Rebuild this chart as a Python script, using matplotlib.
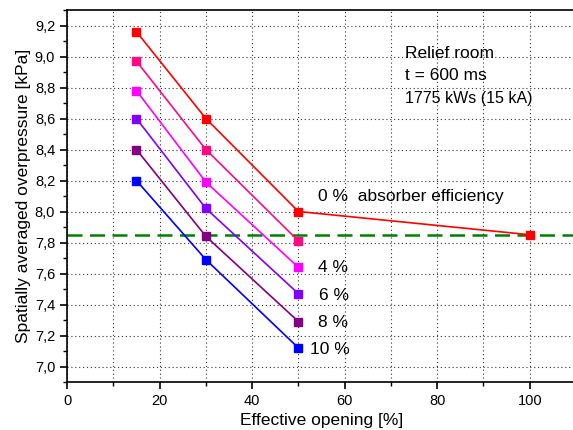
import matplotlib.pyplot as plt
import matplotlib.ticker as mticker

plt.rcParams['font.family'] = ['Liberation Sans', 'DejaVu Sans']
plt.rcParams['font.size'] = 10
plt.rcParams['axes.linewidth'] = 1.2

# effective opening [%]
opening = [15, 30, 50, 100]

# spatially averaged overpressure [kPa] per absorber efficiency
p_0 = [9.16, 8.60, 8.00, 7.85]
p_2 = [8.97, 8.40, 7.81]
p_4 = [8.78, 8.19, 7.64]
p_6 = [8.60, 8.02, 7.47]
p_8 = [8.40, 7.84, 7.29]
p_10 = [8.20, 7.69, 7.12]

reference_level = 7.85

series = [
    (p_0, '#ff0000'),
    (p_2, '#ff0a80'),
    (p_4, '#ff00ff'),
    (p_6, '#8000ff'),
    (p_8, '#800080'),
    (p_10, '#0000ff'),
]

fig = plt.figure(figsize=(5.73, 4.30), dpi=100)
ax = fig.add_axes([67 / 573, 48 / 430, 509 / 573, 372 / 430])

ax.axhline(reference_level, color='#008000', linestyle=(0, (6, 3)), linewidth=1.8, zorder=1)

for values, color in series:
    ax.plot(opening[:len(values)], values, color=color, linewidth=1.2,
            marker='s', markersize=5.5, zorder=3)

ax.set_xlim(0, 110)
ax.set_ylim(6.9, 9.3)
ax.xaxis.set_major_locator(mticker.MultipleLocator(20))
ax.xaxis.set_minor_locator(mticker.MultipleLocator(10))
ax.yaxis.set_major_locator(mticker.MultipleLocator(0.2))
ax.yaxis.set_minor_locator(mticker.MultipleLocator(0.1))
ax.yaxis.set_major_formatter(mticker.FuncFormatter(lambda v, p: f'{v:.1f}'.replace('.', ',')))

ax.grid(True, which='both', axis='x', linestyle=(0, (1, 2.5)), color='#333333', linewidth=0.8)
ax.grid(True, which='major', axis='y', linestyle=(0, (1, 2.5)), color='#333333', linewidth=0.8)
ax.set_axisbelow(True)

ax.tick_params(which='major', direction='out', length=5, width=1.2, labelsize=10.5)
ax.tick_params(which='minor', direction='out', length=3, width=1.0)
ax.spines['right'].set_visible(False)

ax.set_xlabel('Effective opening [%]', fontsize=12.5, labelpad=4)
ax.set_ylabel('Spatially averaged overpressure [kPa]', fontsize=12.5, labelpad=3)

ax.text(73, 9.02, 'Relief room', fontsize=12.5, va='center')
ax.text(73, 8.88, 't = 600 ms', fontsize=12.5, va='center')
ax.text(73, 8.73, '1775 kWs (15 kA)', fontsize=11.5, va='center')

ax.text(54.2, 8.10, '0 %  absorber efficiency', fontsize=12.5, va='center')
ax.text(54.2, 7.64, '4 %', fontsize=12.5, va='center')
ax.text(54.4, 7.456, '6 %', fontsize=12.5, va='center')
ax.text(54.2, 7.284, '8 %', fontsize=12.5, va='center')
ax.text(52.5, 7.11, '10 %', fontsize=12.5, va='center')

fig.savefig('out.png', dpi=100, facecolor='white')
